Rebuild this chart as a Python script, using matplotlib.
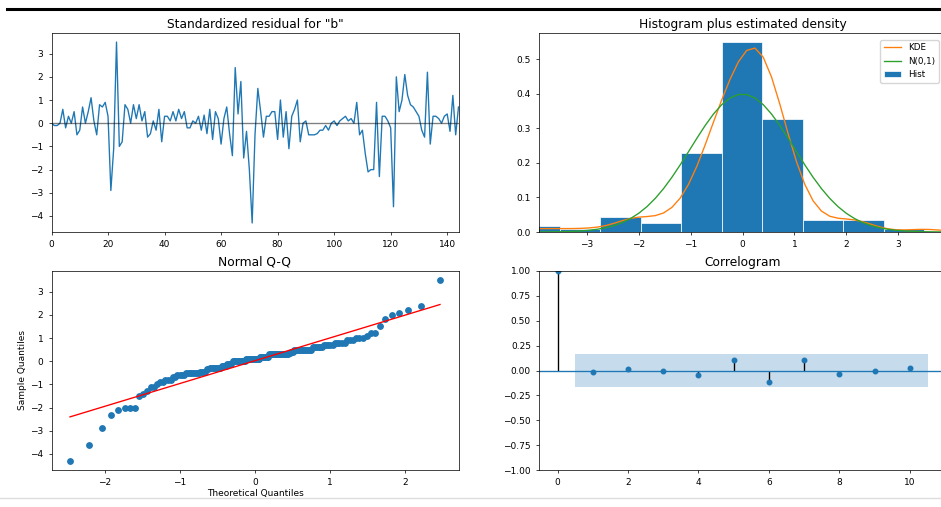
import numpy as np
import matplotlib
matplotlib.use("Agg")
import matplotlib.pyplot as plt
from matplotlib.lines import Line2D
from statistics import NormalDist

# standardized residuals (index 0..144)
resid = np.array([
    0.0, -0.1, -0.1, 0.0, 0.6, -0.2, 0.3, 0.0, 0.5, -0.5,
    -0.3, 0.7, 0.0, 0.5, 1.1, 0.1, -0.5, 0.8, 0.7, 0.9,
    0.3, -2.9, -1.1, 3.5, -1.0, -0.8, 0.8, 0.6, 0.0, 0.8,
    0.2, 0.8, 0.1, 0.5, -0.6, -0.45, 0.1, -0.3, 0.6, -0.8,
    0.3, 0.3, 0.1, 0.5, 0.1, 0.6, 0.2, 0.5, -0.2, -0.2,
    0.1, 0.0, 0.3, -0.3, 0.35, -0.45, 0.6, -0.7, 0.5, 0.2,
    -0.9, 0.2, 0.7, -0.45, -1.4, 2.4, 0.4, 1.8, -1.5, -0.35,
    -2.0, -4.3, -0.5, 1.5, 0.5, -0.6, 0.3, 0.3, 0.5, 0.5,
    -0.7, 1.0, -0.6, 0.5, -1.1, 0.3, 0.6, 1.0, -0.8, 0.0,
    0.1, -0.5, -0.5, -0.5, -0.45, -0.3, -0.3, -0.1, -0.3, 0.0,
    0.1, -0.1, 0.1, 0.2, 0.3, 0.1, 0.2, 0.0, 0.9, -0.5,
    -0.3, -1.3, -2.1, -2.0, -2.0, 0.9, -2.3, 0.3, 0.3, 0.1,
    -0.2, -3.6, 2.0, 0.5, 1.0, 2.1, 1.2, 0.8, 0.7, 0.5,
    0.3, -0.3, -0.6, 2.2, -0.9, 0.3, 0.3, 0.2, 0.0, 0.3,
    0.4, -0.35, 1.2, -0.5, 0.7,
])

# autocorrelations
acf_lags = np.arange(0, 11)
acf_vals = np.array([1.0, -0.02, 0.017, 0.0, -0.05, 0.11, -0.12, 0.11, -0.04, 0.0, 0.024])
conf_band = 0.163

s = 0.65  # the original figure was scaled down
plt.rcParams.update({
    "font.size": 10 * s,
    "axes.titlesize": 8.8,
    "axes.labelsize": 10 * s,
    "xtick.labelsize": 10 * s,
    "ytick.labelsize": 10 * s,
    "legend.fontsize": 6.3,
    "axes.linewidth": 0.8 * s,
    "xtick.major.width": 0.8 * s,
    "ytick.major.width": 0.8 * s,
    "xtick.major.size": 3.5 * s,
    "ytick.major.size": 3.5 * s,
    "lines.linewidth": 1.5 * s,
    "axes.titlepad": 6 * s,
    "axes.labelpad": 2,
})

W, H = 941, 507
fig = plt.figure(figsize=(W / 100, H / 100), dpi=100)


def box(x0, x1, y0, y1):
    return [x0 / W, 1 - y1 / H, (x1 - x0) / W, (y1 - y0) / H]


ax1 = fig.add_axes(box(51.5, 458.5, 33, 232))
ax2 = fig.add_axes(box(539, 946, 33, 232))
ax3 = fig.add_axes(box(51.5, 458.5, 271, 470))
ax4 = fig.add_axes(box(539, 946, 271, 470))

n = len(resid)
ix = np.arange(n)

# standardized residuals
ax1.plot(ix, resid)
ax1.hlines(0, ix[0], ix[-1], colors="k", alpha=0.5, lw=1.5 * s)
ax1.set_xlim(ix[0], ix[-1])
ax1.set_title('Standardized residual for "b"')

# histogram plus density
hist_bars = ax2.hist(resid, density=True, edgecolor="#FFFFFF", lw=0.8 * s)[2]
xlim = (-1.96 * 2, 1.96 * 2)
x = np.linspace(xlim[0], xlim[1])
bw = resid.std(ddof=1) * n ** (-0.2)
kde = np.exp(-0.5 * ((x[:, None] - resid[None, :]) / bw) ** 2).sum(1) / (n * bw * np.sqrt(2 * np.pi))
kde_line, = ax2.plot(x, kde)
norm_line, = ax2.plot(x, np.exp(-x ** 2 / 2) / np.sqrt(2 * np.pi))
ax2.set_xlim(xlim)
ax2.legend([kde_line, norm_line, hist_bars[0]], ["KDE", "N(0,1)", "Hist"],
           loc="upper right", borderaxespad=0.8)
ax2.set_title("Histogram plus estimated density")

# normal Q-Q
nd = NormalDist()
theo = np.array([nd.inv_cdf(i / (n + 1)) for i in range(1, n + 1)])
samp = np.sort(resid)
ax3.plot(theo, samp, marker="o", linestyle="none", markersize=6 * s,
         markerfacecolor="C0", markeredgecolor="C0")
ends = np.array([theo[0], theo[-1]])
ax3.plot(ends, ends * samp.std() + samp.mean(), "r-", lw=1.5 * s)
ax3.set_xlabel("Theoretical Quantiles", labelpad=1.5)
ax3.set_ylabel("Sample Quantiles")
ax3.set_title("Normal Q-Q")

# correlogram
ax4.vlines(acf_lags, 0, acf_vals, colors="k", lw=1.5 * s)
ax4.axhline(0, color="C0", lw=1.5 * s)
ax4.margins(0.05)
ax4.plot(acf_lags, acf_vals, marker="o", markersize=5 * s, linestyle="None", color="C0")
band_x = acf_lags[1:].astype(float)
band_x[0] -= 0.5
band_x[-1] += 0.5
ax4.fill_between(band_x, -conf_band, conf_band, alpha=0.25, color="C0", lw=0)
ax4.set_title("Correlogram")
ax4.set_ylim(-1, 1)

# page rules of the screenshot
fig.add_artist(Line2D([7 / W, 1], [1 - 9 / H] * 2, color="k", lw=2.2))
fig.add_artist(Line2D([0, 1], [1 - 498 / H] * 2, color="#dddddd", lw=1))

fig.savefig("out.png", dpi=100)
